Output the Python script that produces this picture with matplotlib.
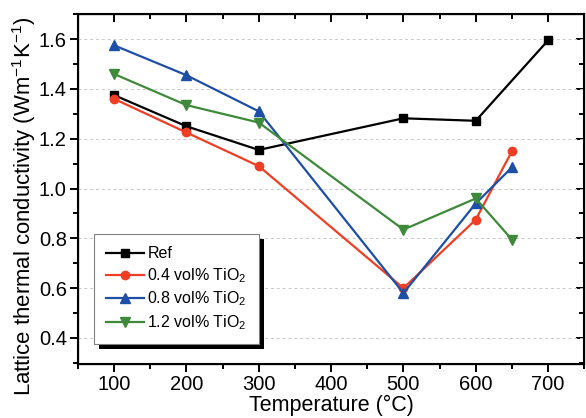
import matplotlib
matplotlib.use("Agg")
import matplotlib.pyplot as plt
from matplotlib.ticker import MultipleLocator
from matplotlib.patches import Rectangle
from matplotlib.transforms import IdentityTransform

plt.rcParams['font.family'] = ['Liberation Sans', 'DejaVu Sans']
plt.rcParams['mathtext.fontset'] = 'custom'
plt.rcParams['mathtext.rm'] = 'Liberation Sans'
plt.rcParams['mathtext.it'] = 'Liberation Sans:italic'
plt.rcParams['mathtext.bf'] = 'Liberation Sans:bold'

# data
temp_ref = [100, 200, 300, 500, 600, 700]
ref = [1.375, 1.25, 1.155, 1.282, 1.272, 1.595]

temp_tio2 = [100, 200, 300, 500, 600, 650]
tio2_04 = [1.36, 1.225, 1.09, 0.60, 0.875, 1.15]
tio2_08 = [1.575, 1.455, 1.31, 0.58, 0.94, 1.085]
tio2_12 = [1.46, 1.335, 1.265, 0.835, 0.96, 0.795]

labels = ['Ref', '0.4 vol% TiO$_2$', '0.8 vol% TiO$_2$', '1.2 vol% TiO$_2$']
colors = ['black', '#ef3e23', '#1d4fa6', '#3e8a3a']

fig = plt.figure(figsize=(5.86, 4.18), dpi=100)
ax = fig.add_axes([0.133, 0.129, 0.864, 0.837])

lw = 1.6
ms = 6
ax.plot(temp_ref, ref, '-s', color=colors[0], lw=lw, ms=ms, label=labels[0])
ax.plot(temp_tio2, tio2_04, '-o', color=colors[1], lw=lw, ms=ms, label=labels[1])
ax.plot(temp_tio2, tio2_08, '-^', color=colors[2], lw=lw, ms=ms + 0.5, label=labels[2])
ax.plot(temp_tio2, tio2_12, '-v', color=colors[3], lw=lw, ms=ms + 0.5, label=labels[3])

ax.set_xlim(50, 750)
ax.set_ylim(0.295, 1.70)
ax.xaxis.set_major_locator(MultipleLocator(100))
ax.xaxis.set_minor_locator(MultipleLocator(50))
ax.yaxis.set_major_locator(MultipleLocator(0.2))
ax.yaxis.set_minor_locator(MultipleLocator(0.1))
ax.set_xticks([100, 200, 300, 400, 500, 600, 700])
ax.set_yticks([0.4, 0.6, 0.8, 1.0, 1.2, 1.4, 1.6])
ax.yaxis.set_major_formatter(plt.FuncFormatter(lambda v, p: '%.1f' % v))

ax.grid(axis='y', which='major', color='#c8c8c8', ls=(0, (3, 3)), lw=0.7)
ax.set_axisbelow(True)

for s in ax.spines.values():
    s.set_linewidth(1.5)

ax.tick_params(which='both', direction='out', width=1.4, labelsize=14.5,
               top=False, right=False, pad=2)
ax.tick_params(which='major', length=6)
ax.tick_params(which='minor', length=3.5)

# inward ticks on the top and right sides
ax2 = ax.twinx()
ax2.set_ylim(ax.get_ylim())
ax2.yaxis.set_major_locator(MultipleLocator(0.2))
ax2.yaxis.set_minor_locator(MultipleLocator(0.1))
ax2.tick_params(which='both', direction='in', width=1.4, labelright=False)
ax2.tick_params(which='major', length=6)
ax2.tick_params(which='minor', length=3.5)
ax3 = ax.twiny()
ax3.set_xlim(ax.get_xlim())
ax3.xaxis.set_major_locator(MultipleLocator(100))
ax3.xaxis.set_minor_locator(MultipleLocator(50))
ax3.tick_params(which='both', direction='in', width=1.4, labeltop=False)
ax3.tick_params(which='major', length=6)
ax3.tick_params(which='minor', length=3.5)

ax.set_xlabel('Temperature (°C)', fontsize=15.5)
ax.xaxis.label.set_va('bottom')
ax.xaxis.set_label_coords(0.5, -0.147)
ax.set_ylabel('Lattice thermal conductivity (Wm$^{-1}$K$^{-1}$)', fontsize=15.9)
ax.yaxis.set_label_coords(-0.079, 0.45)

leg = ax.legend(loc='lower left', bbox_to_anchor=(0.0316, 0.058), borderaxespad=0,
                fontsize=11.5, frameon=True, fancybox=False, edgecolor='#808080',
                framealpha=1, handlelength=2.4, handletextpad=0.2,
                borderpad=0.75, labelspacing=0.3)
leg.get_frame().set_linewidth(0.8)
ax.set_zorder(3)
ax.patch.set_visible(False)

# solid black offset shadow behind the legend
fig.canvas.draw()
bb = leg.get_window_extent()
shadow = Rectangle((bb.x0 + 5, bb.y0 - 5), bb.width, bb.height, facecolor='black',
                   edgecolor='none', transform=IdentityTransform(), zorder=4.5)
ax.add_artist(shadow)

fig.savefig('out.png', dpi=100)
